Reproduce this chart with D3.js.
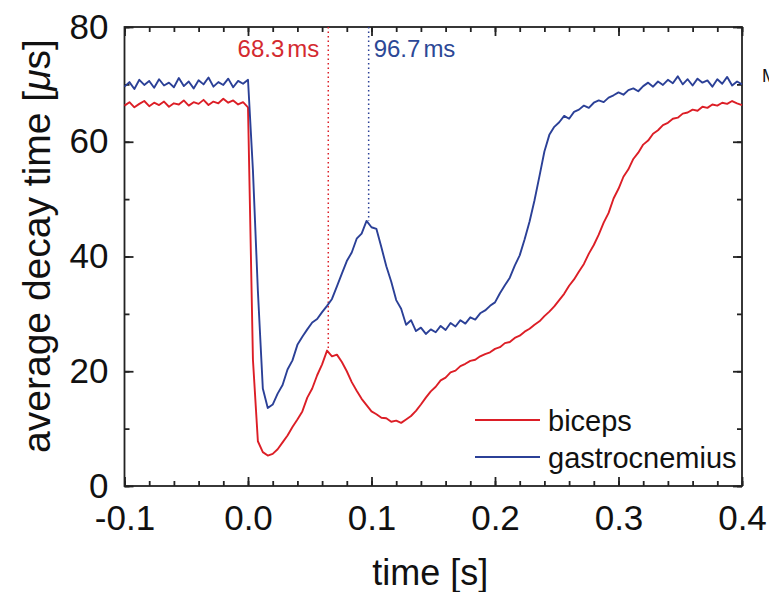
<!DOCTYPE html>
<html>
<head>
<meta charset="utf-8">
<script src="https://cdn.jsdelivr.net/npm/d3@7"></script>
<style>
    body { margin: 0; background: #fff; }
    svg { display: block; font-family: "Liberation Sans", Arial, sans-serif; }
</style>
</head>
<body>
<svg id="chart" width="769" height="592"></svg>
<script>
// time axis (s)
const times = [
    -0.100, -0.096, -0.092, -0.088, -0.084, -0.080, -0.076, -0.072, -0.068, -0.064,
    -0.060, -0.056, -0.052, -0.048, -0.044, -0.040, -0.036, -0.032, -0.028, -0.024,
    -0.020, -0.016, -0.012, -0.008, -0.004,
    0.000, 0.004, 0.008, 0.012, 0.016, 0.020, 0.024, 0.028, 0.032, 0.036,
    0.040, 0.044, 0.048, 0.052, 0.056, 0.060, 0.064, 0.068, 0.072, 0.076,
    0.080, 0.084, 0.088, 0.092, 0.096, 0.100, 0.104, 0.108, 0.112, 0.116,
    0.120, 0.124, 0.128, 0.132, 0.136, 0.140, 0.144, 0.148, 0.152, 0.156,
    0.160, 0.164, 0.168, 0.172, 0.176, 0.180, 0.184, 0.188, 0.192, 0.196,
    0.200, 0.204, 0.208, 0.212, 0.216, 0.220, 0.224, 0.228, 0.232, 0.236,
    0.240, 0.244, 0.248, 0.252, 0.256, 0.260, 0.264, 0.268, 0.272, 0.276,
    0.280, 0.284, 0.288, 0.292, 0.296, 0.300, 0.304, 0.308, 0.312, 0.316,
    0.320, 0.324, 0.328, 0.332, 0.336, 0.340, 0.344, 0.348, 0.352, 0.356,
    0.360, 0.364, 0.368, 0.372, 0.376, 0.380, 0.384, 0.388, 0.392, 0.396, 0.400
];

// average decay time (us)
const biceps = [
    66.3, 66.9, 66.0, 66.6, 67.1, 66.2, 66.8, 66.4, 67.0, 66.1,
    66.7, 66.5, 67.2, 66.3, 66.9, 66.6, 67.3, 66.4, 67.0, 66.7,
    67.5, 66.8, 67.2, 66.5, 66.9,
    66.0, 22.0, 7.8, 5.9, 5.3, 5.6, 6.4, 7.6, 8.8, 10.3,
    11.6, 13.0, 15.4, 17.0, 19.3, 21.2, 23.6, 22.6, 22.9, 21.6,
    20.0, 18.1, 16.6, 15.2, 14.1, 13.0, 12.5, 11.9, 11.8, 11.2,
    11.4, 11.0, 11.6, 12.2, 13.1, 14.2, 15.4, 16.5, 17.3, 18.4,
    18.9, 19.8, 20.1, 20.9, 21.3, 21.8, 22.0, 22.6, 23.0, 23.3,
    23.9, 24.2, 24.9, 25.1, 25.8, 26.2, 26.9, 27.4, 28.1, 28.7,
    29.6, 30.4, 31.3, 32.4, 33.5, 34.9, 36.0, 37.4, 38.7, 40.5,
    42.0, 43.8, 45.9, 47.6, 50.1, 51.8, 53.9, 55.2, 57.0, 58.1,
    59.5, 60.2, 61.4, 62.0, 62.9, 63.3, 64.0, 64.2, 64.9, 65.1,
    65.6, 65.4, 66.1, 65.9, 66.5, 66.3, 66.8, 66.6, 67.1, 66.7, 66.4
];

const gastrocnemius = [
    69.6, 70.4, 69.2, 70.8, 69.9, 70.6, 69.4, 70.9, 69.8, 70.3,
    69.5, 71.1, 69.7, 70.5, 69.3, 70.7, 70.0, 71.2, 69.6, 70.4,
    69.9, 71.0, 69.5, 70.6, 70.1,
    70.8, 55.0, 34.0, 17.0, 13.6, 14.2, 16.1, 17.6, 20.3, 21.9,
    24.6, 26.0, 27.3, 28.5, 29.1, 30.3, 31.4, 32.6, 34.8, 37.0,
    39.2, 40.7, 43.1, 44.0, 46.2, 45.1, 44.8, 41.6, 38.3, 35.6,
    32.4, 30.9, 28.1, 28.9, 27.0, 27.6, 26.5, 27.3, 26.8, 27.9,
    27.2, 28.4, 27.8, 28.9, 28.3, 29.4, 29.0, 30.1, 30.6, 31.4,
    32.0, 33.6, 35.0, 36.3, 38.4, 40.2, 43.0, 46.1, 49.8, 54.0,
    58.3, 61.2, 62.6, 63.4, 64.5, 64.0, 65.2, 65.6, 66.3, 65.9,
    66.8, 67.2, 66.9, 67.7, 68.1, 68.6, 68.2, 69.0, 69.3, 68.8,
    69.7, 70.3, 69.6, 70.5, 69.9, 70.8, 70.2, 71.4, 70.0, 70.9,
    69.8, 71.0, 70.3, 70.7, 69.6, 70.9, 70.1, 71.3, 69.8, 70.5, 70.0
];

const seriesNames = ["biceps", "gastrocnemius"];
const seriesColors = ["#dc1e26", "#2b4097"];
const labelColors = ["#d42a30", "#2c4896"];

// peak markers: position, end of dotted line, label (value + unit)
const markerTimes = [0.065, 0.0977];
const markerEnds = [23.5, 46.2];
const markerValues = ["68.3", "96.7"];
const markerUnit = "ms";

const xTicks = [-0.1, 0.0, 0.1, 0.2, 0.3, 0.4];
const yTicks = [0, 20, 40, 60, 80];

const margin = {top: 27, right: 27, bottom: 106, left: 124.5},
    width = 742 - margin.left,
    height = 486 - margin.top;

const svg = d3.select("#chart");
const g = svg.append("g")
    .attr("transform", "translate(" + margin.left + "," + margin.top + ")");

let x = d3.scaleLinear().domain([-0.1, 0.4]).range([0, width]);
let y = d3.scaleLinear().domain([0, 80]).range([height, 0]);

const axisColor = "#222";
const fmt = d => d.toFixed(1);

function styleAxis(sel) {
    sel.select(".domain").remove();
    sel.selectAll("line").attr("stroke", axisColor).attr("stroke-width", 1.8);
    sel.selectAll("text").attr("fill", "#111").attr("font-size", 35)
        .attr("font-family", "'Liberation Sans', Arial, sans-serif");
}

const minorX = d3.range(-0.1, 0.401, 0.02);
const minorY = d3.range(0, 81, 10);

// bottom
g.append("g").attr("transform", "translate(0," + height + ")")
    .call(d3.axisBottom(x).tickValues(minorX).tickSize(-5).tickFormat(""))
    .call(styleAxis);
g.append("g").attr("transform", "translate(0," + height + ")")
    .call(d3.axisBottom(x).tickValues(xTicks).tickSize(-9).tickPadding(19).tickFormat(fmt))
    .call(styleAxis);
// top
g.append("g")
    .call(d3.axisTop(x).tickValues(minorX).tickSize(-5).tickFormat(""))
    .call(styleAxis);
g.append("g")
    .call(d3.axisTop(x).tickValues(xTicks).tickSize(-9).tickFormat(""))
    .call(styleAxis);
// left
g.append("g")
    .call(d3.axisLeft(y).tickValues(minorY).tickSize(-5).tickFormat(""))
    .call(styleAxis);
g.append("g")
    .call(d3.axisLeft(y).tickValues(yTicks).tickSize(-9).tickPadding(16))
    .call(styleAxis);
// right
g.append("g").attr("transform", "translate(" + width + ",0)")
    .call(d3.axisRight(y).tickValues(minorY).tickSize(-5).tickFormat(""))
    .call(styleAxis);
g.append("g").attr("transform", "translate(" + width + ",0)")
    .call(d3.axisRight(y).tickValues(yTicks).tickSize(-9).tickFormat(""))
    .call(styleAxis);

// frame
g.append("rect")
    .attr("width", width).attr("height", height)
    .attr("fill", "none").attr("stroke", axisColor).attr("stroke-width", 1.8);

// dotted peak markers
markerTimes.forEach((t, i) => {
    g.append("line")
        .attr("x1", x(t)).attr("x2", x(t))
        .attr("y1", y(80)).attr("y2", y(markerEnds[i]))
        .attr("stroke", seriesColors[i])
        .attr("stroke-width", 1.5)
        .attr("stroke-dasharray", "1.5,3");
    let lab = g.append("text")
        .attr("x", i === 0 ? x(t) - 9 : x(t) + 5)
        .attr("y", 30)
        .attr("text-anchor", i === 0 ? "end" : "start")
        .attr("font-size", 24)
        .attr("fill", labelColors[i]);
    lab.append("tspan").text(markerValues[i]);
    lab.append("tspan").attr("dx", 3).text(markerUnit);
});

// curves
let line = d3.line()
    .x((d, i) => x(times[i]))
    .y(d => y(d));

[biceps, gastrocnemius].forEach((s, i) => {
    g.append("path")
        .datum(s)
        .attr("fill", "none")
        .attr("stroke", seriesColors[i])
        .attr("stroke-width", 1.9)
        .attr("stroke-linejoin", "round")
        .attr("d", line);
});

// legend
const legend = g.append("g").attr("transform", "translate(" + (475 - margin.left) + "," + (420 - margin.top) + ")");
seriesNames.forEach((name, i) => {
    legend.append("line")
        .attr("x1", 0).attr("x2", 65)
        .attr("y1", i * 37).attr("y2", i * 37)
        .attr("stroke", seriesColors[i]).attr("stroke-width", 1.9);
    legend.append("text")
        .attr("x", 73).attr("y", i * 37 + 11)
        .attr("font-size", 29).attr("fill", "#111")
        .text(name);
});

// axis titles
svg.append("text")
    .attr("x", margin.left + width / 2 - 3).attr("y", 585)
    .attr("text-anchor", "middle")
    .attr("font-size", 36).attr("fill", "#111")
    .text("time [s]");

const ylab = svg.append("text")
    .attr("transform", "translate(50,246) rotate(-90)")
    .attr("text-anchor", "middle")
    .attr("font-size", 39).attr("fill", "#111");
ylab.append("tspan").text("average decay time [");
ylab.append("tspan").attr("font-style", "italic").text("\u03bc");
ylab.append("tspan").text("s]");

// fragment of neighbouring panel label
svg.append("text")
    .attr("x", 762).attr("y", 82)
    .attr("font-size", 18).attr("fill", "#111")
    .text("M");
</script>
</body>
</html>
